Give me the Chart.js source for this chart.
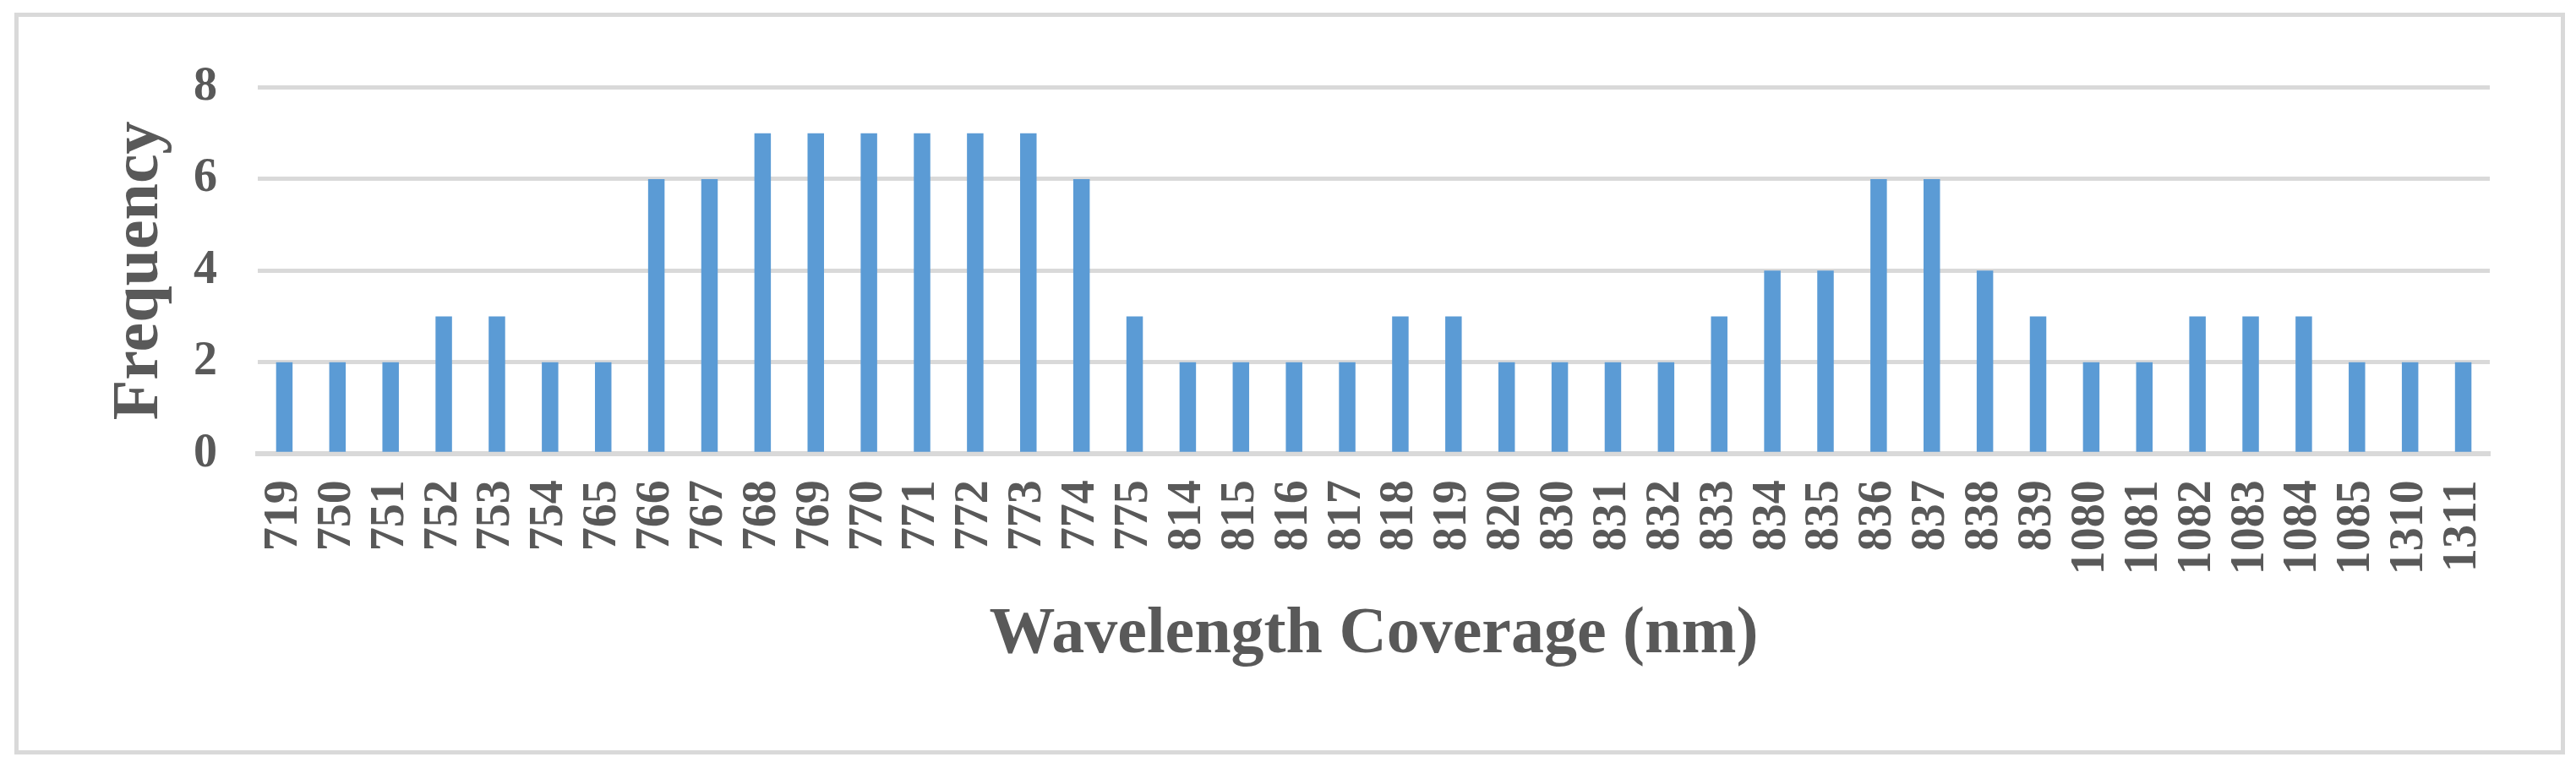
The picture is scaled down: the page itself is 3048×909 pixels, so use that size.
<!DOCTYPE html>
<html>
<head>
<meta charset="utf-8">
<title>Wavelength Coverage</title>
<script src="https://cdn.jsdelivr.net/npm/chart.js@4/dist/chart.umd.min.js"></script>
<style>
  html, body { margin: 0; padding: 0; background: #fff; }
  #wrap { position: relative; width: 3048px; height: 909px; }
  #frame {
    position: absolute; left: 17px; top: 15px; width: 3018px; height: 878px;
    border: 5px solid #d9d9d9; box-sizing: border-box; pointer-events: none;
  }
  canvas { position: absolute; left: 0; top: 0; }
</style>
</head>
<body>
<div id="wrap">
  <canvas id="coverageChart" width="3048" height="909"></canvas>
  <div id="frame"></div>
</div>
<script>
// Wavelengths (nm) and how often each one is covered
const wavelengths = [
  "719", "750", "751", "752", "753", "754", "765", "766", "767", "768",
  "769", "770", "771", "772", "773", "774", "775", "814", "815", "816",
  "817", "818", "819", "820", "830", "831", "832", "833", "834", "835",
  "836", "837", "838", "839", "1080", "1081", "1082", "1083", "1084", "1085",
  "1310", "1311",
];
const frequency = [
  2, 2, 2, 3, 3, 2, 2, 6, 6, 7,
  7, 7, 7, 7, 7, 6, 3, 2, 2, 2,
  2, 3, 3, 2, 2, 2, 2, 3, 4, 4,
  6, 6, 4, 3, 2, 2, 3, 3, 3, 2,
  2, 2,
];
const yTicks = [0, 2, 4, 6, 8];

const textColor = "#595959";
const gridColor = "#d9d9d9";
const serif = "'Liberation Serif', 'Times New Roman', serif";

const ctx = document.getElementById("coverageChart");

new Chart(ctx, {
  type: "bar",
  data: {
    labels: wavelengths,
    datasets: [
      {
        label: "Frequency",
        data: frequency,
        backgroundColor: "#5b9bd5",
        borderWidth: 0,
        categoryPercentage: 1,
        barPercentage: 0.31,
      },
    ],
  },
  options: {
    responsive: false,
    animation: false,
    devicePixelRatio: 1,
    layout: {
      padding: { left: 115, right: 102, top: 103.5, bottom: 106 },
    },
    plugins: {
      legend: { display: false },
      tooltip: { enabled: false },
    },
    scales: {
      x: {
        z: 1,
        grid: { display: false, drawTicks: false },
        border: { display: true, color: gridColor, width: 6 },
        ticks: {
          autoSkip: false,
          minRotation: 90,
          maxRotation: 90,
          padding: 31,
          color: textColor,
          font: { family: serif, size: 56, weight: "bold" },
        },
        title: {
          display: true,
          text: "Wavelength Coverage (nm)",
          color: textColor,
          padding: { top: 4, bottom: 4 },
          font: { family: serif, size: 78, weight: "bold" },
        },
        afterFit: (scale) => {
          scale.height = 265.8;
        },
      },
      y: {
        min: 0,
        max: 8,
        afterBuildTicks: (scale) => {
          scale.ticks = yTicks.map((v) => ({ value: v }));
        },
        grid: { color: gridColor, lineWidth: 5, drawTicks: false },
        border: { display: false },
        ticks: {
          padding: 48,
          color: textColor,
          font: { family: serif, size: 56, weight: "bold" },
        },
        title: {
          display: true,
          text: "Frequency",
          color: textColor,
          padding: { top: 4, bottom: 4 },
          font: { family: serif, size: 78, weight: "bold" },
        },
        afterFit: (scale) => {
          scale.width = 190;
        },
      },
    },
  },
});
</script>
</body>
</html>
